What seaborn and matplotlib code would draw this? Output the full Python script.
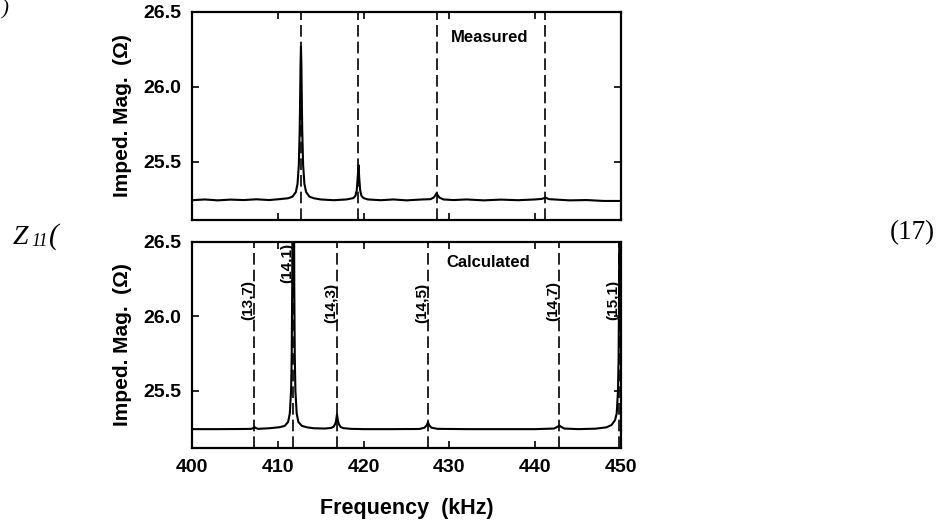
import matplotlib
matplotlib.use("Agg")
import matplotlib.pyplot as plt
import seaborn as sns
import pandas as pd

# ---- data ----
meas_freq = [400.0, 401.5, 403.0, 404.5, 406.0, 407.5, 409.0, 410.2, 411.2, 411.7, 412.1,
             412.3, 412.45, 412.55, 412.6, 412.65, 412.7, 412.75, 412.8, 412.85, 412.95,
             413.1, 413.3, 413.7, 414.2, 415.0, 416.5, 418.0, 418.8, 419.05, 419.2, 419.3,
             419.4, 419.5, 419.6, 419.75, 420.0, 420.5, 422.0, 423.5, 425.0, 426.5, 427.8,
             428.15, 428.35, 428.5, 428.65, 428.85, 429.3, 430.5, 432.0, 434.0, 436.0,
             438.0, 440.0, 440.8, 441.2, 441.6, 442.5, 444.0, 446.0, 448.0, 450.0]
meas_imp = [25.245, 25.250, 25.244, 25.249, 25.246, 25.251, 25.246, 25.252, 25.258, 25.268,
            25.299, 25.354, 25.480, 25.706, 25.909, 26.147, 26.270, 26.147, 25.909, 25.706,
            25.480, 25.354, 25.299, 25.268, 25.258, 25.250, 25.245, 25.250, 25.259, 25.274,
            25.311, 25.386, 25.480, 25.386, 25.311, 25.274, 25.259, 25.250, 25.245, 25.250,
            25.244, 25.249, 25.252, 25.262, 25.276, 25.292, 25.276, 25.262, 25.250, 25.246,
            25.250, 25.244, 25.249, 25.245, 25.250, 25.254, 25.262, 25.252, 25.249, 25.244,
            25.246, 25.240, 25.240]

calc_freq = [400.0, 403.0, 406.0, 406.9, 407.1, 407.3, 407.5, 407.7, 409.0, 410.2, 410.8,
             411.2, 411.4, 411.55, 411.62, 411.68, 411.72, 411.88, 411.92, 411.98, 412.05,
             412.2, 412.4, 412.8, 413.4, 414.2, 415.5, 416.2, 416.5, 416.7, 416.8, 416.9,
             417.0, 417.1, 417.3, 417.6, 418.5, 420.0, 423.0, 426.5, 427.1, 427.35, 427.5,
             427.65, 427.9, 428.6, 432.0, 436.0, 440.0, 442.2, 442.6, 442.8, 443.0, 443.4,
             445.0, 447.0, 448.3, 448.9, 449.3, 449.5, 449.65, 449.72, 449.78, 449.82, 450.0]
calc_imp = [25.240, 25.240, 25.241, 25.242, 25.246, 25.253, 25.246, 25.242, 25.246, 25.253,
            25.262, 25.288, 25.346, 25.500, 25.720, 26.200, 26.970, 26.970, 26.200, 25.720,
            25.500, 25.346, 25.288, 25.262, 25.252, 25.246, 25.244, 25.248, 25.256, 25.276,
            25.299, 25.340, 25.299, 25.276, 25.256, 25.247, 25.242, 25.240, 25.240, 25.241,
            25.250, 25.266, 25.285, 25.266, 25.250, 25.242, 25.240, 25.240, 25.240, 25.244,
            25.256, 25.265, 25.256, 25.244, 25.240, 25.243, 25.252, 25.268, 25.300, 25.346,
            25.500, 25.720, 26.200, 26.970, 26.970]

meas_modes = [412.7, 419.4, 428.5, 441.2]
calc_modes = [407.2, 411.8, 416.9, 427.5, 442.8, 449.8]
calc_labels = ["(13,7)", "(14,1)", "(14,3)", "(14,5)", "(14,7)", "(15,1)"]
calc_label_y = [26.11, 26.36, 26.09, 26.09, 26.10, 26.11]

x_ticks = [400, 410, 420, 430, 440, 450]
y_ticks = [25.5, 26.0, 26.5]

# ---- style ----
sns.set_theme(style="ticks")
plt.rcParams["font.family"] = ["Liberation Sans", "DejaVu Sans"]
plt.rcParams["font.weight"] = "bold"
for k in ["text.color", "axes.labelcolor", "xtick.color", "ytick.color", "axes.edgecolor"]:
    plt.rcParams[k] = "black"

fig = plt.figure(figsize=(9.41, 5.23), dpi=100)
fig.patch.set_facecolor("white")
ax1 = fig.add_axes([192 / 941, 1 - 220 / 523, (621 - 192) / 941, 208 / 523])
ax2 = fig.add_axes([192 / 941, 1 - 448 / 523, (621 - 192) / 941, 206 / 523])

meas_df = pd.DataFrame({"f": meas_freq, "z": meas_imp})
calc_df = pd.DataFrame({"f": calc_freq, "z": calc_imp})

sns.lineplot(data=meas_df, x="f", y="z", ax=ax1, color="black", lw=1.5, sort=False)
sns.lineplot(data=calc_df, x="f", y="z", ax=ax2, color="black", lw=1.5, sort=False)

dash = (0, (7, 3))
for f in meas_modes:
    ax1.axvline(f, color="black", lw=1.2, linestyle=dash)
for f in calc_modes:
    ax2.axvline(f, color="black", lw=1.2, linestyle=dash)

for f, lab, yy in zip(calc_modes, calc_labels, calc_label_y):
    ax2.text(f + 0.12, yy, lab, rotation=90, ha="right", va="center",
             fontsize=11, fontweight="bold", color="black")

ax1.text(430.2, 26.33, "Measured", ha="left", va="center", fontsize=12, fontweight="bold")
ax2.text(429.7, 26.36, "Calculated", ha="left", va="center", fontsize=12, fontweight="bold")

for ax in (ax1, ax2):
    ax.set_xlim(400, 450)
    ax.set_ylim(25.113, 26.5)
    ax.set_xticks(x_ticks)
    ax.set_yticks(y_ticks)
    ax.set_yticklabels([f"{v:.1f}" for v in y_ticks])
    ax.tick_params(direction="in", length=5, width=1.2, top=True, right=True,
                   labelsize=14, pad=8, colors="black")
    for lab in ax.get_xticklabels() + ax.get_yticklabels():
        lab.set_fontweight("bold")
    for s in ax.spines.values():
        s.set_linewidth(1.6)
        s.set_color("black")
    ax.set_ylabel("Imped. Mag.  (\u03a9)", fontsize=15, fontweight="bold", labelpad=8)
    ax.set_facecolor("white")

ax1.set_xticklabels([])
ax1.set_xlabel("")
ax2.set_xticklabels([str(v) for v in x_ticks])
ax2.set_xlabel("Frequency  (kHz)", fontsize=15.5, fontweight="bold", labelpad=15.5)

# surrounding page text (equation fragment and number)
serif = "Liberation Serif"
fig.text(13 / 941, 1 - 244 / 523, "Z", fontsize=20, family=serif, style="italic",
         fontweight="normal", ha="left", va="baseline", color="black")
fig.text(31 / 941, 1 - 246 / 523, "11", fontsize=13, family=serif, style="italic",
         fontweight="normal", ha="left", va="baseline", color="black")
fig.text(49 / 941, 1 - 244 / 523, "(", fontsize=21, family=serif, style="italic",
         fontweight="normal", ha="left", va="baseline", color="black")
fig.text(890 / 941, 1 - 233 / 523, "(17)", fontsize=19.5, family=serif,
         fontweight="normal", ha="left", va="center", color="black")
fig.text(0.002, 1 - 10 / 523, ")", fontsize=15, family=serif, style="italic",
         fontweight="normal", ha="left", va="center", color="black")

fig.savefig("out.png", dpi=100, facecolor="white")
